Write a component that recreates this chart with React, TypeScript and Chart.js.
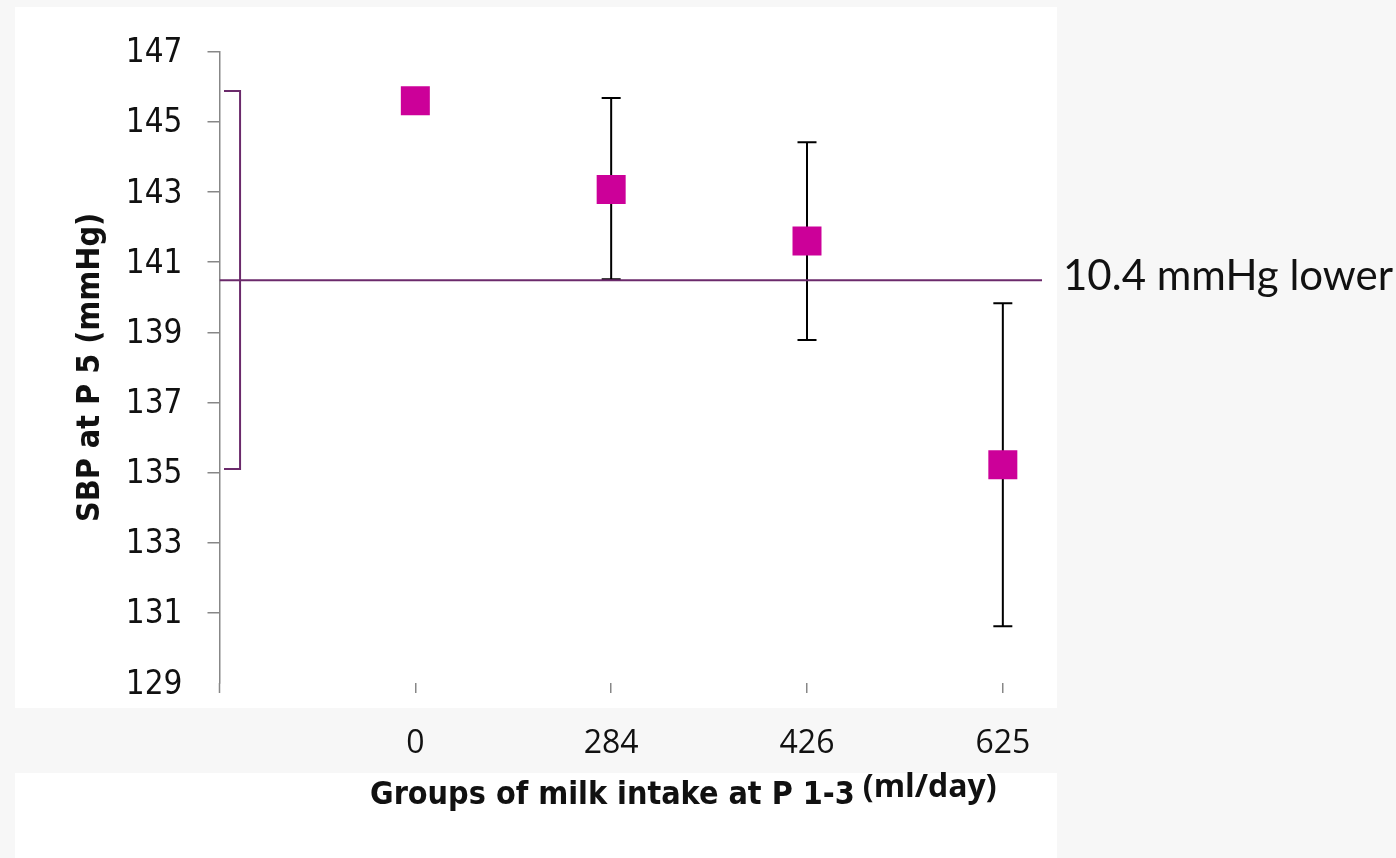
import React, { useEffect, useRef } from "react";
import { Chart, registerables } from "chart.js";

Chart.register(...registerables);

// ---- data ----
const groupLabels = ["0", "284", "426", "625"];
const groupPositions = [1, 2, 3, 4];
const meanSBP = [145.6, 143.07, 141.6, 135.22];
const errHigh = [null, 145.68, 144.42, 139.83];
const errLow = [null, 140.51, 138.78, 130.62];
const referenceLevel = 140.48;
const bracketTop = 145.88;
const bracketBottom = 135.1;
const bracketX = [0.023, 0.105];
const yMin = 129;
const yMax = 147;
const yStep = 2;
const xMax = 4.2;
const yTitle = "SBP at P 5 (mmHg)";
const xTitleMain = "Groups of milk intake at P 1-3";
const xTitleUnit = "(ml/day)";
const annotationText = "10.4 mmHg lower";

const MAGENTA = "#cc0099";
const PURPLE = "#6b2a6b";
const GRAY = "#878787";
const COND = "'DejaVu Sans Condensed', 'DejaVu Sans', sans-serif";

const backgroundPlugin = {
  id: "panels",
  beforeDraw(chart: any) {
    const { ctx, width, height } = chart;
    ctx.save();
    ctx.fillStyle = "#f7f7f7";
    ctx.fillRect(0, 0, width, height);
    ctx.fillStyle = "#ffffff";
    ctx.fillRect(15, 7, 1042, 701);
    ctx.fillRect(15, 773, 1042, 85);
    ctx.restore();
  },
};

const errorBarPlugin = {
  id: "errorBars",
  beforeDatasetsDraw(chart: any) {
    const { ctx } = chart;
    const xs = chart.scales.x;
    const ys = chart.scales.y;
    ctx.save();
    ctx.strokeStyle = "#000000";
    ctx.lineWidth = 2;
    groupPositions.forEach((gx, i) => {
      const hi = errHigh[i];
      const lo = errLow[i];
      if (hi == null || lo == null) return;
      const px = xs.getPixelForValue(gx);
      const pt = ys.getPixelForValue(hi);
      const pb = ys.getPixelForValue(lo);
      ctx.beginPath();
      ctx.moveTo(px, pt);
      ctx.lineTo(px, pb);
      ctx.moveTo(px - 9.5, pt);
      ctx.lineTo(px + 9.5, pt);
      ctx.moveTo(px - 9.5, pb);
      ctx.lineTo(px + 9.5, pb);
      ctx.stroke();
    });
    ctx.restore();
  },
  afterDraw(chart: any) {
    const { ctx, chartArea } = chart;
    const xs = chart.scales.x;
    const ys = chart.scales.y;
    ctx.save();
    // y axis extension below the x crossing
    ctx.strokeStyle = GRAY;
    ctx.lineWidth = 1.5;
    const ax = xs.getPixelForValue(0);
    ctx.beginPath();
    ctx.moveTo(ax, chartArea.bottom);
    ctx.lineTo(ax, chartArea.bottom + 10);
    ctx.stroke();
    // annotation text
    ctx.fillStyle = "#111111";
    ctx.font = "42px Lato, 'Open Sans', sans-serif";
    ctx.textAlign = "left";
    ctx.textBaseline = "alphabetic";
    ctx.fillText(annotationText, 1063, ys.getPixelForValue(referenceLevel) + 10);
    // x title in two fonts
    ctx.fillStyle = "#111111";
    ctx.font = "bold 32px " + COND;
    ctx.fillText(xTitleMain, 370, 804);
    const w = ctx.measureText(xTitleMain + " ").width;
    ctx.font = "bold 32px 'Open Sans', sans-serif";
    ctx.fillText(xTitleUnit, 368 + w, 797);
    ctx.restore();
  },
};

export default function App() {
  const ref = useRef<HTMLCanvasElement | null>(null);

  useEffect(() => {
    if (!ref.current) return;
    const chart = new Chart(ref.current, {
      type: "scatter",
      data: {
        datasets: [
          {
            label: "SBP",
            data: groupPositions.map((x, i) => ({ x, y: meanSBP[i] })),
            pointStyle: "rect",
            pointRadius: 20.5,
            pointBackgroundColor: MAGENTA,
            pointBorderWidth: 0,
            showLine: false,
          },
          {
            label: "reference",
            data: [
              { x: 0, y: referenceLevel },
              { x: xMax, y: referenceLevel },
            ],
            showLine: true,
            borderColor: PURPLE,
            borderWidth: 2,
            pointRadius: 0,
          },
          {
            label: "bracket",
            data: [
              { x: bracketX[0], y: bracketTop },
              { x: bracketX[1], y: bracketTop },
              { x: bracketX[1], y: bracketBottom },
              { x: bracketX[0], y: bracketBottom },
            ],
            showLine: true,
            borderColor: PURPLE,
            borderWidth: 2,
            pointRadius: 0,
          },
        ],
      },
      options: {
        animation: false,
        responsive: false,
        maintainAspectRatio: false,
        layout: { padding: { top: 51.7, right: 354, left: 0, bottom: 0 } },
        plugins: {
          legend: { display: false },
          tooltip: { enabled: false },
        },
        scales: {
          x: {
            type: "linear",
            min: 0,
            max: xMax,
            afterBuildTicks: (scale: any) => {
              scale.ticks = groupPositions.map((v) => ({ value: v }));
            },
            afterFit: (scale: any) => {
              scale.height = 175;
            },
            ticks: {
              autoSkip: false,
              maxRotation: 0,
              padding: 32,
              color: "#111111",
              font: { family: "'Open Sans', sans-serif", size: 32 },
              callback: (v: any) => groupLabels[groupPositions.indexOf(Number(v))] ?? "",
            },
            grid: {
              display: true,
              drawOnChartArea: false,
              drawTicks: true,
              tickLength: 10,
              color: GRAY,
              lineWidth: 1.5,
            },
            border: { display: false },
          },
          y: {
            min: yMin,
            max: yMax,
            afterFit: (scale: any) => {
              scale.width = 219.5;
            },
            ticks: {
              stepSize: yStep,
              padding: 25,
              labelOffset: 2,
              color: "#111111",
              font: { family: COND, size: 33 },
            },
            grid: {
              drawOnChartArea: false,
              drawTicks: true,
              tickLength: 12,
              tickColor: (c: any) => (c.tick && c.tick.value === yMin ? "rgba(0,0,0,0)" : GRAY),
              lineWidth: 1.5,
            },
            border: { display: true, color: GRAY, width: 1.5 },
            title: {
              display: true,
              text: yTitle,
              color: "#111111",
              font: { family: COND, size: 32, weight: "bold" },
              padding: { top: 71, bottom: 0 },
            },
          },
        },
      },
      plugins: [backgroundPlugin, errorBarPlugin],
    });
    return () => chart.destroy();
  }, []);

  return (
    <div style={{ position: "fixed", left: 0, top: 0, width: 1396, height: 858, background: "#f7f7f7" }}>
      <canvas ref={ref} width={1396} height={858} style={{ width: 1396, height: 858, display: "block" }} />
    </div>
  );
}
